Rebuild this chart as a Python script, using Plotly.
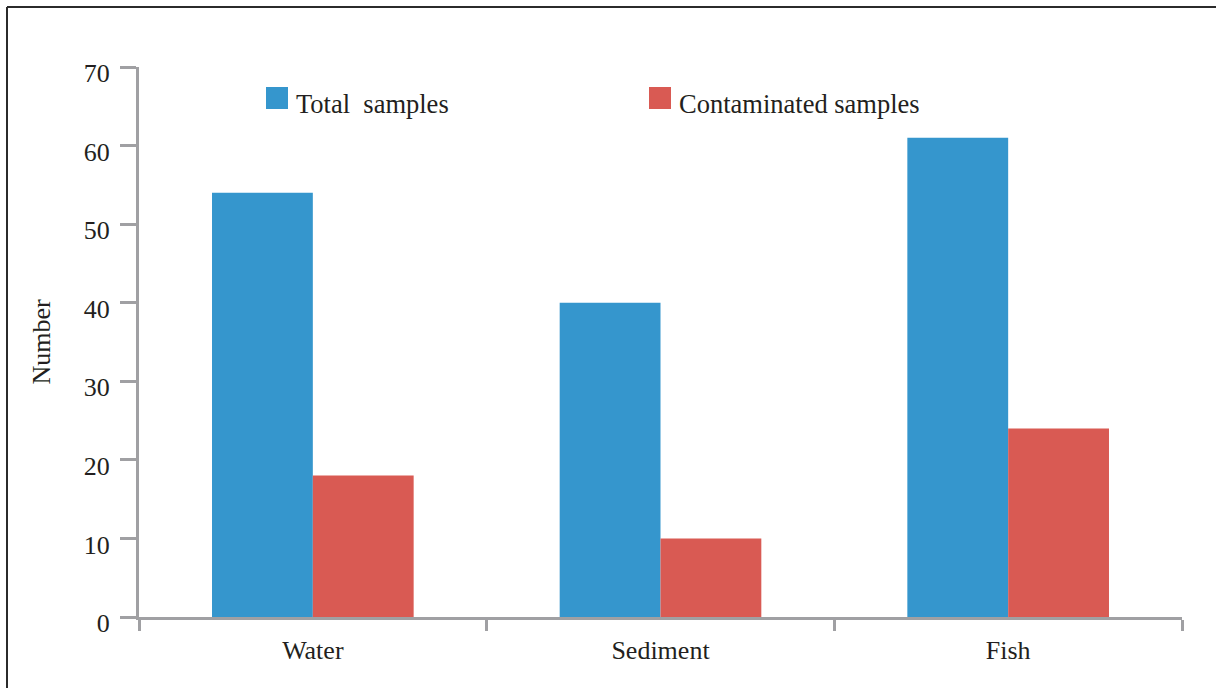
import plotly.graph_objects as go

categories = ["Water", "Sediment", "Fish"]
total_samples = [54, 40, 61]
contaminated_samples = [18, 10, 24]
series_names = ["Total  samples", "Contaminated samples"]
series_colors = ["#3596cd", "#d95a53"]
y_ticks = [0, 10, 20, 30, 40, 50, 60, 70]

W, H = 1216, 688
ml, mr, mt, mb = 139, 34, 67, 71
pw, ph = W - ml - mr, H - mt - mb
axis_col = "#a0a0a3"
font = "Liberation Serif, Times New Roman, serif"

fig = go.Figure()
fig.add_trace(go.Bar(name=series_names[0], x=categories, y=total_samples,
                     marker=dict(color=series_colors[0], line_width=0), showlegend=False))
fig.add_trace(go.Bar(name=series_names[1], x=categories, y=contaminated_samples,
                     marker=dict(color=series_colors[1], line_width=0), showlegend=False))

# convert pixel position to paper coords
def px(x):
    return (x - ml) / pw

def py(y):
    return (H - mb - y) / ph

shapes = []
annotations = []
# hand-made legend with bigger keys
for name, col, x0 in zip(series_names, series_colors, [266, 649]):
    shapes.append(dict(type="rect", xref="paper", yref="paper",
                       x0=px(x0), x1=px(x0 + 22), y0=py(109), y1=py(87),
                       fillcolor=col, line_width=0))
    annotations.append(dict(xref="paper", yref="paper", x=px(x0 + 28), y=py(104),
                            text=name, showarrow=False, xanchor="left", yanchor="middle",
                            font=dict(size=26.5, color="#231f20", family=font)))

# frame around the figure (top and left visible)
shapes.append(dict(type="line", xref="paper", yref="paper", x0=px(7), x1=px(W + 5),
                   y0=py(7), y1=py(7), line=dict(color="#2b2b2b", width=2)))
shapes.append(dict(type="line", xref="paper", yref="paper", x0=px(7), x1=px(7),
                   y0=py(7), y1=py(H + 5), line=dict(color="#2b2b2b", width=2)))

fig.update_layout(
    width=W, height=H,
    margin=dict(l=ml, r=mr, t=mt, b=mb, pad=0),
    paper_bgcolor="white", plot_bgcolor="white",
    barmode="group", bargap=0.42, bargroupgap=0,
    font=dict(family=font, size=26, color="#231f20"),
    shapes=shapes, annotations=annotations,
    xaxis=dict(showgrid=False, showline=True, linecolor=axis_col, linewidth=3,
               ticks="outside", tickson="boundaries", ticklen=11, tickwidth=3,
               tickcolor=axis_col, ticklabelstandoff=8, zeroline=False),
    yaxis=dict(range=[0, 70], tickvals=y_ticks, showgrid=False, zeroline=False,
               showline=True, linecolor=axis_col, linewidth=3,
               ticks="outside", ticklen=16, tickwidth=3, tickcolor=axis_col,
               ticklabelstandoff=5, ticklabelshift=6,
               title=dict(text="Number", standoff=26, font=dict(size=26))),
)

fig.write_html("out.html", config={"displayModeBar": False},
               post_script="document.body.style.margin='0';")
